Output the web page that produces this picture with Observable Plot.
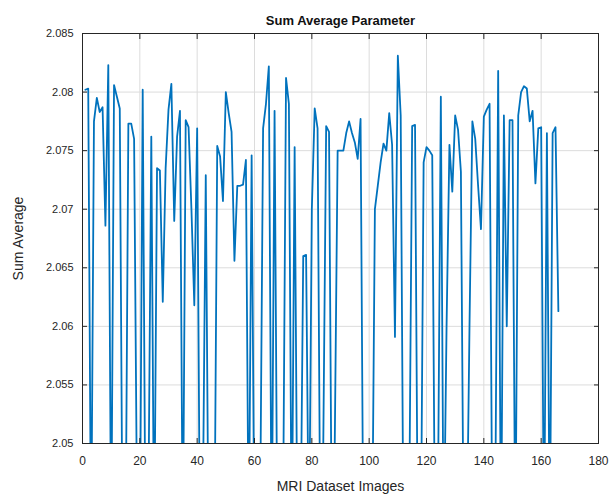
<!DOCTYPE html>
<html>
<head>
<meta charset="utf-8">
<script src="https://cdn.jsdelivr.net/npm/d3@7"></script>
<script src="https://cdn.jsdelivr.net/npm/@observablehq/plot@0.6"></script>
<style>
  body { margin: 0; background: #fff; }
  #chart svg { display: block; }
</style>
</head>
<body>
<div id="chart"></div>
<script>
// Sum Average texture feature for each MRI image (values below 2.05 run off the axis)
const sumAverage = [
  2.0802, 2.0803, 2.0400, 2.0775, 2.0795, 2.0783, 2.0787, 2.0686, 2.0823, 2.0400,
  2.0806, 2.0796, 2.0786, 2.0400, 2.0400, 2.0773, 2.0773, 2.0760, 2.0450, 2.0400,
  2.0802, 2.0400, 2.0450, 2.0762, 2.0400, 2.0735, 2.0733, 2.0621, 2.0735, 2.0785,
  2.0807, 2.0690, 2.0762, 2.0784, 2.0400, 2.0776, 2.0770, 2.0700, 2.0618, 2.0769,
  2.0400, 2.0450, 2.0729, 2.0400, 2.0400, 2.0400, 2.0754, 2.0745, 2.0707, 2.0800,
  2.0782, 2.0766, 2.0656, 2.0720, 2.0720, 2.0721, 2.0742, 2.0400, 2.0746, 2.0400,
  2.0400, 2.0450, 2.0769, 2.0790, 2.0822, 2.0400, 2.0784, 2.0400, 2.0400, 2.0450,
  2.0812, 2.0790, 2.0400, 2.0753, 2.0400, 2.0400, 2.0660, 2.0661, 2.0400, 2.0700,
  2.0786, 2.0769, 2.0400, 2.0500, 2.0771, 2.0766, 2.0400, 2.0500, 2.0750, 2.0750,
  2.0750, 2.0765, 2.0775, 2.0765, 2.0757, 2.0743, 2.0777, 2.0400, 2.0400, 2.0480,
  2.0400, 2.0700, 2.0720, 2.0740, 2.0756, 2.0750, 2.0782, 2.0755, 2.0591, 2.0831,
  2.0780, 2.0400, 2.0400, 2.0450, 2.0771, 2.0772, 2.0400, 2.0400, 2.0740, 2.0753,
  2.0750, 2.0746, 2.0400, 2.0450, 2.0796, 2.0400, 2.0600, 2.0755, 2.0715, 2.0780,
  2.0768, 2.0732, 2.0400, 2.0400, 2.0600, 2.0775, 2.0760, 2.0720, 2.0683, 2.0779,
  2.0785, 2.0790, 2.0400, 2.0450, 2.0818, 2.0400, 2.0780, 2.0600, 2.0776, 2.0776,
  2.0400, 2.0780, 2.0800, 2.0805, 2.0803, 2.0775, 2.0784, 2.0722, 2.0769, 2.0770,
  2.0400, 2.0765, 2.0400, 2.0765, 2.0770, 2.0613
];
const imageIndex = sumAverage.map((_, i) => i + 1);

const xTicks = [0, 20, 40, 60, 80, 100, 120, 140, 160, 180];
const yTicks = [2.05, 2.055, 2.06, 2.065, 2.07, 2.075, 2.08, 2.085];

const titleText = "Sum Average Parameter";
const xLabel = "MRI Dataset Images";
const yLabel = "Sum Average";

const rows = sumAverage.map((v, i) => ({image: imageIndex[i], value: v}));
const fmtY = d3.format(".3~f");
const axisColor = "#262626";

const chart = Plot.plot({
  width: 614,
  height: 499,
  marginLeft: 82,
  marginRight: 16,
  marginTop: 33,
  marginBottom: 56,
  style: {fontFamily: "'Liberation Sans', Arial, sans-serif", fontSize: "11px", color: axisColor, background: "#fff"},
  x: {domain: [0, 180], ticks: xTicks},
  y: {domain: [2.05, 2.085], ticks: yTicks},
  marks: [
    Plot.gridX(xTicks, {stroke: "#dcdcdc", strokeOpacity: 1}),
    Plot.gridY(yTicks, {stroke: "#dcdcdc", strokeOpacity: 1}),
    Plot.lineY(rows, {x: "image", y: "value", stroke: "#0072BD", strokeWidth: 1.8, clip: true}),
    // tick labels and axis titles
    Plot.axisX(xTicks, {anchor: "bottom", tickSize: 0, tickPadding: 13, fontSize: 12,
      label: xLabel, labelAnchor: "center", labelArrow: "none", labelOffset: 47}),
    Plot.axisY(yTicks, {anchor: "left", tickSize: 0, tickPadding: 9, fontSize: 11, tickFormat: fmtY,
      label: yLabel, labelAnchor: "center", labelArrow: "none", labelOffset: 69}),
    // inward ticks on all four sides
    Plot.axisX(xTicks, {anchor: "bottom", tickSize: -5, text: null, label: null, stroke: axisColor}),
    Plot.axisX(xTicks, {anchor: "top", tickSize: -5, text: null, label: null, stroke: axisColor}),
    Plot.axisY(yTicks, {anchor: "left", tickSize: -5, text: null, label: null, stroke: axisColor}),
    Plot.axisY(yTicks, {anchor: "right", tickSize: -5, text: null, label: null, stroke: axisColor}),
    Plot.frame({stroke: axisColor, strokeWidth: 1}),
    Plot.text([titleText], {frameAnchor: "top", lineAnchor: "bottom", dy: -9, fontSize: 13, fontWeight: "bold", fill: "#111"})
  ]
});
chart.querySelectorAll("[aria-label='x-axis label'] text, [aria-label='y-axis label'] text").forEach(t => t.setAttribute("font-size", 14));
document.getElementById("chart").appendChild(chart);
</script>
</body>
</html>
